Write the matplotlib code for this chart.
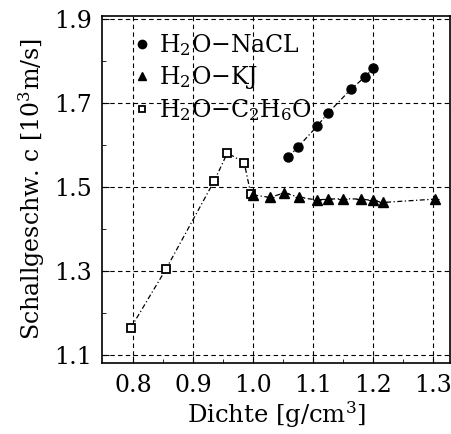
import matplotlib
matplotlib.use("Agg")
import matplotlib.pyplot as plt
import numpy as np

# density [g/cm^3] and sound speed [10^3 m/s]
nacl_rho = [1.058, 1.074, 1.106, 1.124, 1.163, 1.187, 1.200]
nacl_c = [1.571, 1.594, 1.644, 1.675, 1.733, 1.763, 1.783]

kj_rho = [1.000, 1.028, 1.052, 1.077, 1.106, 1.124, 1.149, 1.179, 1.199, 1.216, 1.303]
kj_c = [1.481, 1.475, 1.486, 1.475, 1.469, 1.471, 1.472, 1.471, 1.468, 1.463, 1.471]

eth_rho = [0.796, 0.855, 0.935, 0.957, 0.985, 0.996]
eth_c = [1.164, 1.305, 1.514, 1.581, 1.558, 1.483]

xticks = [0.8, 0.9, 1.0, 1.1, 1.2, 1.3]
yticks = [1.1, 1.3, 1.5, 1.7, 1.9]

plt.rcParams['font.family'] = ['DejaVu Serif']
plt.rcParams['mathtext.fontset'] = 'dejavuserif'

fig = plt.figure(figsize=(4.51, 4.34), dpi=100)
ax = fig.add_axes([0.226, 0.164, 0.772, 0.799])

dashdot = (0, (4, 2, 1, 2))
ax.errorbar(nacl_rho, nacl_c, xerr=0.007, fmt='o', color='black', ms=6.5,
            ls=dashdot, lw=0.9, elinewidth=0.8, capsize=0)
ax.errorbar(kj_rho, kj_c, xerr=0.007, fmt='^', color='black', ms=7,
            ls=dashdot, lw=0.9, elinewidth=0.8, capsize=0)
ax.plot(eth_rho, eth_c, marker='s', mfc='white', mec='black', mew=1.3, ms=5.5,
        color='black', ls=dashdot, lw=0.9)

ax.set_xlim(0.748, 1.328)
ax.set_ylim(1.081, 1.907)
ax.set_xticks(xticks)
ax.set_xticklabels(['%.1f' % v for v in xticks])
ax.set_yticks(yticks)
ax.set_yticklabels(['%.1f' % v for v in yticks])
ax.set_xticks(np.arange(0.85, 1.3, 0.1), minor=True)
ax.set_yticks(np.arange(1.2, 1.9, 0.2), minor=True)
ax.tick_params(which='both', direction='in', labelsize=17)
ax.tick_params(which='major', length=5)
ax.tick_params(which='minor', length=3)
ax.tick_params(axis='x', which='major', pad=8)
ax.tick_params(axis='y', which='major', pad=7)
ax.grid(True, which='major', color='black', ls=(0, (4, 3)), lw=0.8)
for s in ax.spines.values():
    s.set_linewidth(1.2)

ax.set_xlabel(r'Dichte [g/cm$^3$]', fontsize=17.5, labelpad=2)
ax.set_ylabel(r'Schallgeschw. c [10$^3$m/s]', fontsize=17, labelpad=5)

m1, = ax.plot([], [], 'o', color='black', ms=6)
m2, = ax.plot([], [], '^', color='black', ms=6)
m3, = ax.plot([], [], 's', mfc='white', mec='black', mew=1.3, ms=5)
ax.legend([m1, m2, m3],
          [r'H$_2$O$-$NaCL', r'H$_2$O$-$KJ', r'H$_2$O$-$C$_2$H$_6$O'],
          loc='upper left', bbox_to_anchor=(0.045, 1.0), frameon=False,
          fontsize=17, handlelength=0.7, handletextpad=0.35,
          labelspacing=0.25, borderaxespad=0.3, borderpad=0.4)

fig.savefig('out.png', dpi=100)
